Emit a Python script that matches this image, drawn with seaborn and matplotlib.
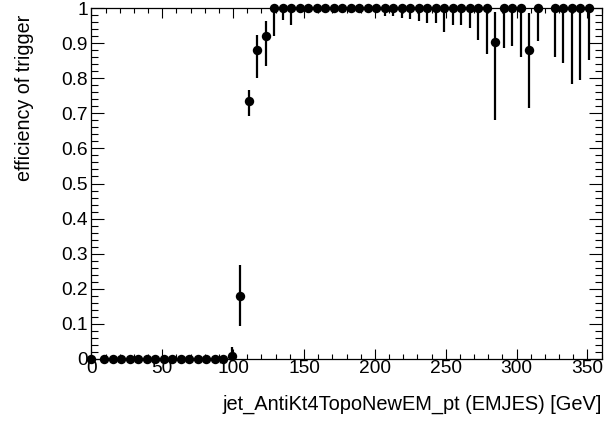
import matplotlib
matplotlib.use("Agg")
import matplotlib.pyplot as plt
import seaborn as sns
import pandas as pd
from matplotlib.ticker import MultipleLocator, FuncFormatter

# ---- data ----
pt = [0, 9, 15, 21, 27, 33, 39, 45, 51, 57, 63, 69, 75, 81, 87, 93, 99,
      105, 111, 117, 123, 129, 135, 141, 147, 153, 159, 165, 171, 177, 183,
      189, 195, 201, 207, 213, 219, 225, 231, 237, 243, 249, 255, 261, 267,
      273, 279, 285, 291, 297, 303, 309, 315, 327, 333, 339, 345, 351]

eff = [0, 0, 0, 0, 0, 0, 0, 0, 0, 0, 0, 0, 0, 0, 0, 0, 0.008,
       0.18, 0.736, 0.880, 0.921, 1, 1, 1, 1, 1, 1, 1, 1, 1, 1,
       1, 1, 1, 1, 1, 1, 1, 1, 1, 1, 1, 1, 1, 1,
       1, 1, 0.904, 1, 1, 1, 0.880, 1, 1, 1, 1, 1, 1]

eff_lo = [0, 0, 0, 0, 0, 0, 0, 0, 0, 0, 0, 0, 0, 0, 0, 0, 0.0,
          0.094, 0.692, 0.800, 0.835, 0.920, 0.966, 0.952, 0.985, 0.988, 0.990, 0.990, 0.990, 0.992, 0.990,
          0.990, 0.990, 0.985, 0.978, 0.978, 0.973, 0.968, 0.964, 0.958, 0.958, 0.931, 0.952, 0.953, 0.942,
          0.909, 0.868, 0.681, 0.885, 0.892, 0.860, 0.714, 0.907, 0.860, 0.842, 0.783, 0.795, 0.852]

eff_hi = [0.005, 0.005, 0.005, 0.005, 0.005, 0.005, 0.005, 0.005, 0.005, 0.005, 0.005, 0.005, 0.005, 0.005, 0.005, 0.005, 0.035,
          0.268, 0.766, 0.923, 0.964, 1, 1, 1, 1, 1, 1, 1, 1, 1, 1,
          1, 1, 1, 1, 1, 1, 1, 1, 1, 1, 1, 1, 1, 1,
          1, 1, 0.990, 1, 1, 1, 0.985, 1, 1, 1, 1, 1, 1]

x_label = "jet_AntiKt4TopoNewEM_pt (EMJES) [GeV]"
y_label = "efficiency of trigger"

df = pd.DataFrame({"pt": pt, "eff": eff, "lo": eff_lo, "hi": eff_hi})

sns.set_theme(style="ticks")
plt.rcParams["font.family"] = ["Liberation Sans", "DejaVu Sans"]

fig = plt.figure(figsize=(6.05, 4.25), dpi=100)
ax = fig.add_axes([0.151, 0.1553, 0.8435, 0.8258])

ax.vlines(df["pt"], df["lo"], df["hi"], colors="black", linewidth=1.6,
          clip_on=False, zorder=3)
sns.scatterplot(data=df, x="pt", y="eff", ax=ax, color="black", s=46,
                edgecolor="black", linewidth=0, clip_on=False, zorder=4,
                legend=False)

ax.set_xlim(0, 360)
ax.set_ylim(0, 1)

ax.xaxis.set_major_locator(MultipleLocator(50))
ax.xaxis.set_minor_locator(MultipleLocator(10))
ax.yaxis.set_major_locator(MultipleLocator(0.1))
ax.yaxis.set_minor_locator(MultipleLocator(0.02))
ax.yaxis.set_major_formatter(FuncFormatter(lambda v, p: "%g" % round(v, 2)))

ax.tick_params(which="both", direction="in", top=True, right=True,
               color="black", width=0.8, labelsize=13.8, labelcolor="black")
ax.tick_params(axis="x", which="major", length=7.2, pad=1)
ax.tick_params(axis="x", which="minor", length=3.8)
ax.tick_params(axis="y", which="major", length=9.4, pad=2.5)
ax.tick_params(axis="y", which="minor", length=5.0)

for sp in ax.spines.values():
    sp.set_linewidth(0.9)
    sp.set_color("black")

ax.set_xlabel(x_label, loc="right", fontsize=14.4, color="black")
ax.xaxis.set_label_coords(1.0, -0.102)
ax.set_ylabel(y_label, loc="top", fontsize=14.2, color="black")
ax.yaxis.set_label_coords(-0.112, 0.98)

fig.savefig("out.png", dpi=100, facecolor="white")
